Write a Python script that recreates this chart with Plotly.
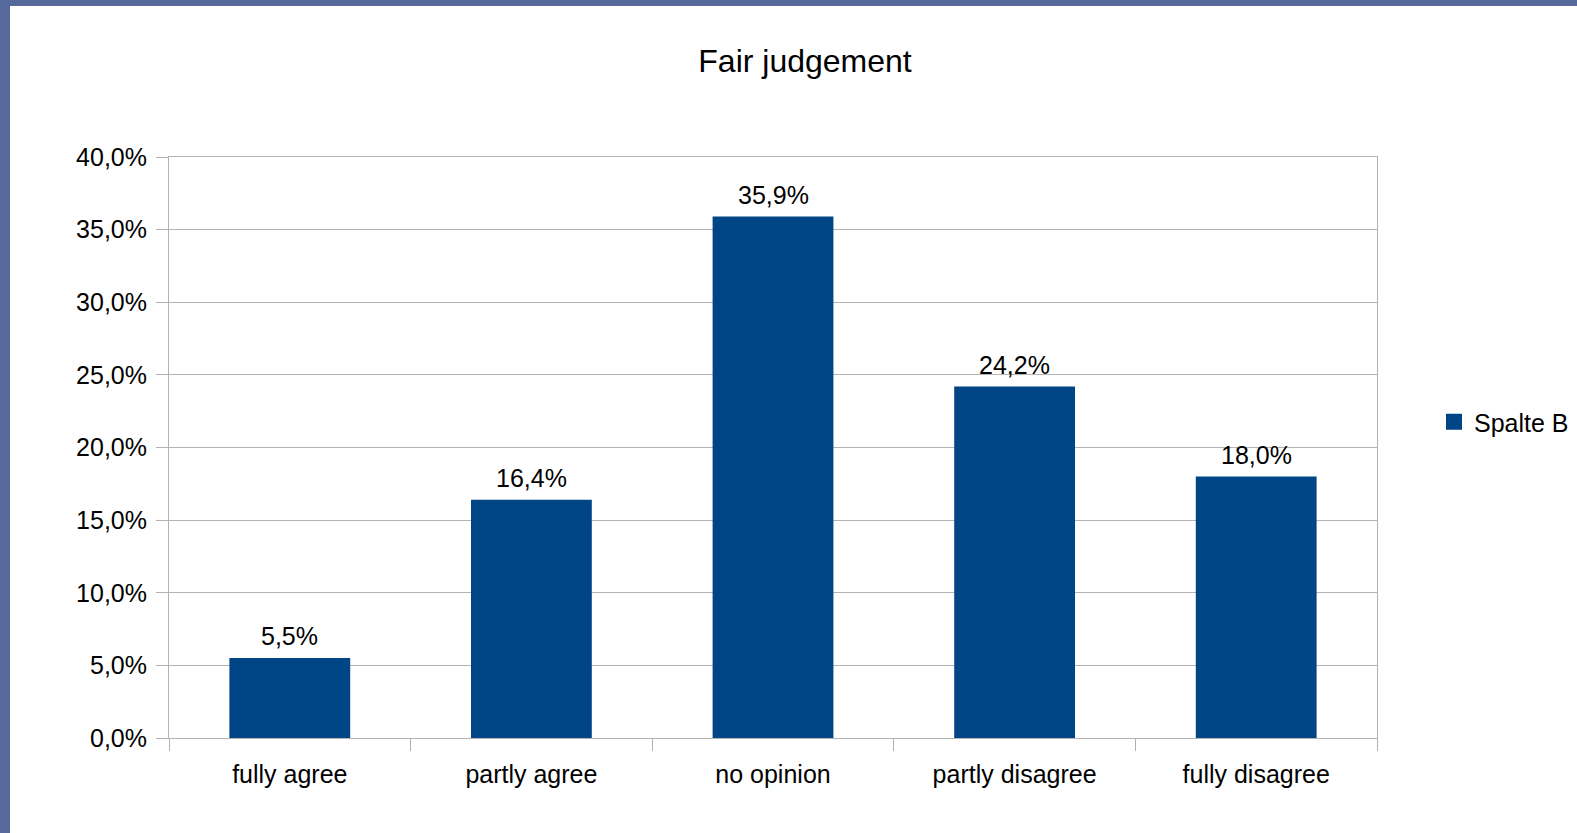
import plotly.graph_objects as go

# Survey answers for "Fair judgement"
categories = ["fully agree", "partly agree", "no opinion", "partly disagree", "fully disagree"]
shares = [5.5, 16.4, 35.9, 24.2, 18.0]
series_name = "Spalte B"
y_ticks = [0, 5, 10, 15, 20, 25, 30, 35, 40]

BAR = "#004586"
GRID = "#b3b3b3"
FONT = "Liberation Sans"

W, H = 1577, 833
L, R, T, B = 169, 200, 157, 95


def pct(v):
    return f"{v:.1f}".replace(".", ",") + "%"


fig = go.Figure()
fig.add_trace(go.Bar(
    x=categories, y=shares, marker=dict(color=BAR, line=dict(width=0)),
    showlegend=False, hoverinfo="x+y",
))
# legend entry with a square swatch
fig.add_trace(go.Scatter(
    x=[None], y=[None], mode="markers", name=series_name,
    marker=dict(symbol="square", size=16, color=BAR),
))

# value labels above bars
for c, v in zip(categories, shares):
    fig.add_annotation(x=c, y=v, text=pct(v), showarrow=False,
                       yanchor="bottom", yshift=6,
                       font=dict(family=FONT, size=25, color="#000000"))

# framed white panel over the blue backdrop
px = lambda p: (p - L) / (W - L - R)
py = lambda p: (H - B - p) / (H - T - B)
fig.add_shape(type="rect", xref="paper", yref="paper",
              x0=px(10), x1=px(W + 5), y0=py(H + 5), y1=py(6),
              fillcolor="white", line=dict(width=0), layer="below")

fig.update_layout(
    width=W, height=H,
    margin=dict(l=L, r=R, t=T, b=B, pad=0, autoexpand=False),
    paper_bgcolor="#56699c", plot_bgcolor="white",
    font=dict(family=FONT, size=25, color="#000000"),
    title=dict(text="Fair judgement", x=805 / W, xanchor="center",
               xref="container", yref="container", y=1 - 61 / H, yanchor="middle",
               font=dict(family=FONT, size=32, color="#000000")),
    bargap=0.5,
    showlegend=True,
    legend=dict(x=px(1434), y=py(422), xanchor="left", yanchor="middle",
                bgcolor="rgba(0,0,0,0)", font=dict(family=FONT, size=25),
                itemclick=False, itemdoubleclick=False),
)
fig.update_xaxes(
    showgrid=False, showline=True, linecolor=GRID, linewidth=1, mirror=True,
    ticks="outside", tickson="boundaries", ticklen=12, tickcolor=GRID,
    ticklabelstandoff=14, tickfont=dict(family=FONT, size=25),
)
fig.update_yaxes(
    range=[0, 40], tickvals=y_ticks, ticktext=[pct(v) for v in y_ticks],
    showgrid=True, gridcolor=GRID, gridwidth=1, zeroline=False,
    showline=True, linecolor=GRID, linewidth=1, mirror=True,
    ticks="outside", ticklen=12, tickcolor=GRID, ticklabelstandoff=4,
    tickfont=dict(family=FONT, size=25),
)

fig.write_html("out.html")
